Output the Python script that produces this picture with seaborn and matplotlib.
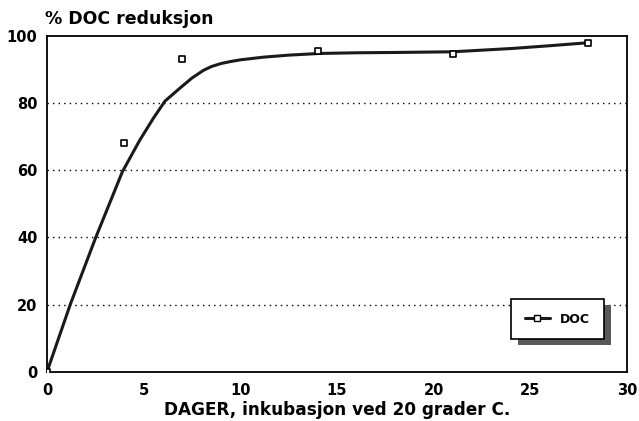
import matplotlib
matplotlib.use("Agg")
import matplotlib.pyplot as plt
import seaborn as sns
from matplotlib.lines import Line2D
from matplotlib.patches import Rectangle

# measured points (days, % DOC reduction)
days = [0, 4, 7, 14, 21, 28]
doc_reduction = [0, 68, 93, 95.5, 94.7, 98]

# fitted curve
curve_days = [0, 1.2, 2.5, 3.9, 4.8, 5.5, 6.1, 6.9, 7.5, 8.1, 8.5, 9.0, 9.5, 10.0, 11.2,
              12.5, 14.1, 16.0, 18.1, 21.0, 24.1, 26.0, 28.0]
curve_doc = [0, 20, 39.7, 59.6, 69.0, 75.5, 80.6, 84.6, 87.5, 89.8, 90.9, 91.8, 92.4, 92.9, 93.7,
             94.3, 94.8, 95.0, 95.1, 95.3, 96.3, 97.1, 98.0]

x_ticks = [0, 5, 10, 15, 20, 25, 30]
y_ticks = [0, 20, 40, 60, 80, 100]

sns.set_style("white")
plt.rcParams['font.family'] = ['DejaVu Sans']
plt.rcParams['font.weight'] = 'bold'
plt.rcParams['text.color'] = 'black'
plt.rcParams['axes.labelcolor'] = 'black'
plt.rcParams['xtick.color'] = 'black'
plt.rcParams['ytick.color'] = 'black'

fig = plt.figure(figsize=(6.39, 4.21), dpi=100)
ax = fig.add_axes([0.0736, 0.117, 0.9076, 0.7975])

# dotted gridlines
for y in y_ticks[1:-1]:
    ax.axhline(y, color='black', lw=1.0, ls=(0, (1, 3)), zorder=1)

sns.lineplot(x=curve_days, y=curve_doc, ax=ax, color='#1a1a1a', lw=2.2, zorder=3)
sns.scatterplot(x=days, y=doc_reduction, ax=ax, marker='s', s=22,
                facecolor='white', edgecolor='black', linewidth=1.2, zorder=4)

ax.set_xlim(0, 30)
ax.set_ylim(0, 100)
ax.set_xticks(x_ticks)
ax.set_yticks(y_ticks)
ax.tick_params(axis='x', direction='in', length=4, width=1, labelsize=10.5, pad=8)
ax.tick_params(axis='y', direction='out', length=5, width=1, labelsize=10.5, pad=2)
for spine in ax.spines.values():
    spine.set_visible(True)
    spine.set_color('black')
    spine.set_linewidth(1.3)

ax.set_xlabel('DAGER, inkubasjon ved 20 grader C.', fontsize=12.2, fontweight='bold', labelpad=2)
ax.set_ylabel('')
ax.text(-0.003, 1.025, '% DOC reduksjon', transform=ax.transAxes, fontsize=12.5,
        fontweight='bold', ha='left', va='bottom')

handle = Line2D([], [], color='#1a1a1a', lw=2.2, marker='s', markersize=5,
                markerfacecolor='white', markeredgecolor='black')
leg = ax.legend([handle], ['DOC'], loc='center', bbox_to_anchor=(0.880, 0.157),
                frameon=True, fancybox=False, edgecolor='black', framealpha=1,
                fontsize=9, handlelength=2.0, borderpad=1.1, borderaxespad=0)
leg.get_frame().set_linewidth(1.2)
leg.set_zorder(6)

# offset grey shadow behind the legend box
fig.canvas.draw()
bb = leg.get_window_extent().transformed(ax.transAxes.inverted())
dx = 7 / (ax.bbox.width)
dy = 6 / (ax.bbox.height)
ax.add_patch(Rectangle((bb.x0 + dx, bb.y0 - dy), bb.width, bb.height,
                       transform=ax.transAxes, facecolor='0.35', edgecolor='none',
                       zorder=5, clip_on=False))

fig.savefig('out.png', dpi=100)
